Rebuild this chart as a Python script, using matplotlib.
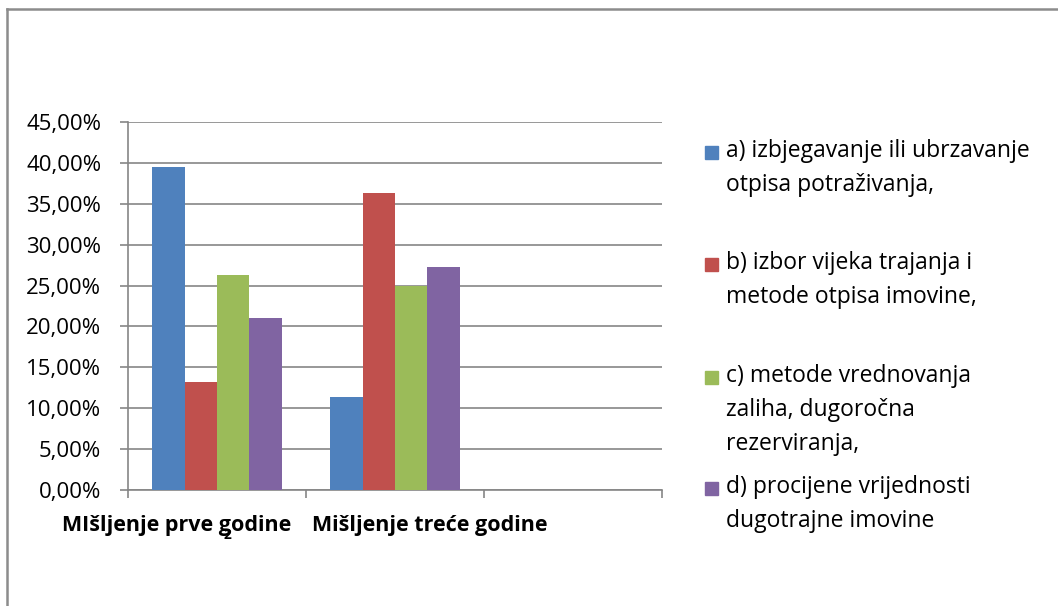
import matplotlib
matplotlib.use("Agg")
import matplotlib.pyplot as plt
import numpy as np
from matplotlib.lines import Line2D
from matplotlib.patches import Rectangle

# data (percent)
categories = ["MIšljenje prve godine", "Mišljenje treće godine", ""]
series_labels = [
    "a) izbjegavanje ili ubrzavanje\notpisa potraživanja,",
    "b) izbor vijeka trajanja i\nmetode otpisa imovine,",
    "c) metode vrednovanja\nzaliha, dugoročna\nrezerviranja,",
    "d) procijene vrijednosti\ndugotrajne imovine",
]
series_values = [
    [39.47, 11.36],
    [13.16, 36.36],
    [26.32, 25.00],
    [21.05, 27.27],
]
colors = ["#4F81BD", "#C0504D", "#9BBB59", "#8064A2"]
yticks = [0, 5, 10, 15, 20, 25, 30, 35, 40, 45]

plt.rcParams['font.family'] = ['Open Sans', 'DejaVu Sans']

W, H = 1058, 606
fig = plt.figure(figsize=(W / 100, H / 100), dpi=100)
ax = fig.add_axes([128 / W, 1 - 490 / H, (662 - 128) / W, (490 - 122) / H])

grey = "#868686"
n = len(series_values)
width = 1 / 5.5
x = np.arange(len(series_values[0]))
for i, vals in enumerate(series_values):
    ax.bar(x + (i - (n - 1) / 2) * width, vals, width, color=colors[i],
           edgecolor="none", zorder=3)

ax.set_xlim(-0.5, len(categories) - 0.5)
ax.set_ylim(0, 45)
ax.set_yticks(yticks)
ax.set_yticklabels([f"{v:.2f}%".replace(".", ",") for v in yticks], fontsize=16)
ax.grid(axis="y", color=grey, linewidth=1.2, zorder=0)
ax.tick_params(axis="y", length=5.8, width=1.2, color=grey, pad=13.5)

# major ticks at category boundaries, labels as minor ticks
ax.set_xticks(np.arange(len(categories) + 1) - 0.5)
ax.set_xticklabels([])
ax.tick_params(axis="x", which="major", length=5.5, width=1.2, color=grey)
ax.set_xticks([-0.228, 1.197], minor=True)
ax.set_xticklabels(categories[:2], minor=True, fontsize=15.5, fontweight="bold")
ax.tick_params(axis="x", which="minor", length=0, pad=18)

for s in ["top", "right"]:
    ax.spines[s].set_visible(False)
for s in ["left", "bottom"]:
    ax.spines[s].set_color(grey)
    ax.spines[s].set_linewidth(1.2)

# stray "2" just under the "e" of "prve" in the first label
fig.text(227 / W, 1 - 535 / H, "2", fontsize=10, fontweight="bold",
         ha="center", va="center")

# legend
tops = [152, 264, 377, 488]
for lab, col, ty in zip(series_labels, colors, tops):
    fig.patches.append(Rectangle((705 / W, 1 - (ty + 6.5) / H), 13 / W, 13 / H,
                                 transform=fig.transFigure, color=col))
    fig.text(726 / W, 1 - (ty - 13) / H, lab, fontsize=16.5, va="top",
             ha="left", linespacing=1.55)

# outer chart border (only top and left fall inside the image)
fig.add_artist(Line2D([7 / W, 7 / W], [0, 1 - 9 / H], color="#8c8c8c",
                      linewidth=1.8, transform=fig.transFigure))
fig.add_artist(Line2D([7 / W, 1], [1 - 9 / H, 1 - 9 / H], color="#8c8c8c",
                      linewidth=1.8, transform=fig.transFigure))

fig.savefig("out.png", dpi=100)
